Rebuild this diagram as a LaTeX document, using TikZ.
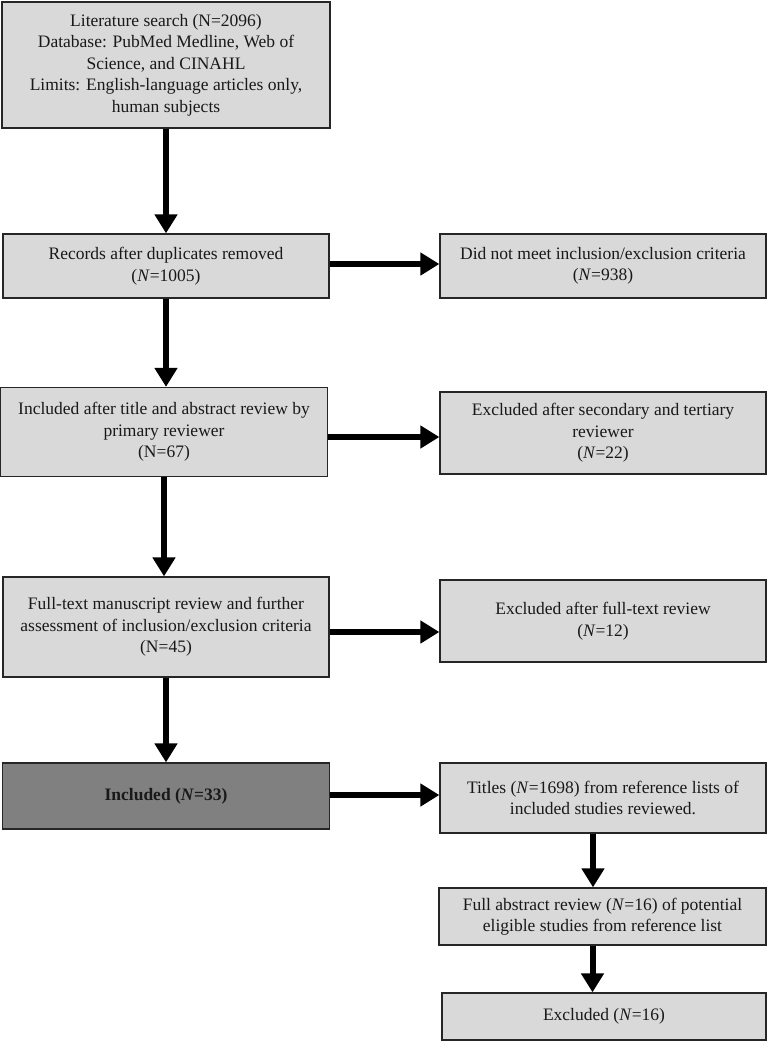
\documentclass[tikz,border=0pt]{standalone}
\usepackage{fontspec}
\setmainfont{Liberation Serif}
\usepackage{tikz}
\usetikzlibrary{positioning}
\usetikzlibrary{arrows.meta,calc}
\definecolor{boxgray}{RGB}{217,217,217}
\definecolor{darkgray}{RGB}{128,128,128}
\tikzstyle{box}=[rectangle,draw=black!85,line width=1.3pt,fill=boxgray,align=center,inner sep=0pt,
  font=\fontsize{17.5}{21.5}\selectfont,text=black!90]
\tikzstyle{darkbox}=[box,fill=darkgray]
\tikzstyle{edge} = [draw,line width=6pt,-{Triangle[length=19pt,width=22pt]}]

\begin{document}
\begin{tikzpicture}[x=1pt,y=-1pt]
    \useasboundingbox (0,0) rectangle (768,1050);
    % left column
    \node[box,minimum width=328pt,minimum height=126pt] (lit) at (166,65)
      {Literature search (N=2096)\\ Database: PubMed Medline, Web of\\ Science, and CINAHL\\
       Limits: English-language articles only,\\ human subjects};
    \node[box,minimum width=326pt,minimum height=64pt] (rec) at (166,266)
      {Records after duplicates removed\\ (\textit{N}=1005)};
    \node[box,minimum width=327pt,minimum height=89pt] (incl1) at (164,432)
      {Included after title and abstract review by\\ primary reviewer\\ (N=67)};
    \node[box,minimum width=326pt,minimum height=100pt] (fulltext) at (166,627)
      {Full-text manuscript review and further\\ assessment of inclusion/exclusion criteria\\ (N=45)};
    \node[darkbox,minimum width=327pt,minimum height=66pt] (incl) at (166,796)
      {\textbf{Included (\textit{N}=33)}};
    % right column
    \node[box,minimum width=326pt,minimum height=64pt] (notmeet) at (603,266)
      {Did not meet inclusion/exclusion criteria\\ (\textit{N}=938)};
    \node[box,minimum width=326pt,minimum height=82pt] (excl1) at (603,433)
      {Excluded after secondary and tertiary\\ reviewer\\ (\textit{N}=22)};
    \node[box,minimum width=326pt,minimum height=82pt] (excl2) at (603,621)
      {Excluded after full-text review\\ (\textit{N}=12)};
    \node[box,minimum width=326pt,minimum height=70pt] (titles) at (603,798)
      {Titles (\textit{N}=1698) from reference lists of\\ included studies reviewed.};
    \node[box,minimum width=327pt,minimum height=57pt] (abstract) at (602.5,916.5)
      {Full abstract review (\textit{N}=16) of potential\\ eligible studies from reference list};
    \node[box,minimum width=324pt,minimum height=47pt] (excl3) at (604,1016.5)
      {Excluded (\textit{N}=16)};
    % arrows
    \foreach \source/\dest in {lit/rec, rec/incl1, incl1/fulltext, fulltext/incl}
        \path[edge] (\source.south) -- (\source.south |- \dest.north);
    \foreach \source/\dest/\dy in {rec/notmeet/-2, incl1/excl1/5, fulltext/excl2/5, incl/titles/-1}
        \path[edge] ([yshift=-\dy pt]\source.east) -- ([yshift=-\dy pt]\source.east -| \dest.west);
    \foreach \source/\dest in {titles/abstract, abstract/excl3}
        \path[edge] ([xshift=-10pt]\source.south) -- ([xshift=-10pt]\source.south |- \dest.north);
\end{tikzpicture}
\end{document}
